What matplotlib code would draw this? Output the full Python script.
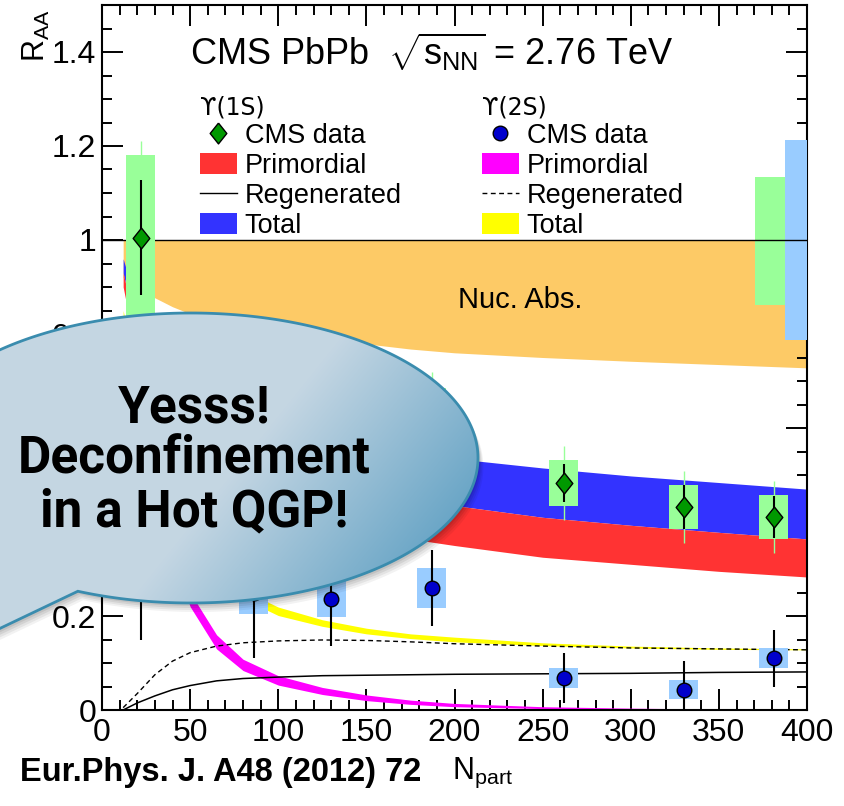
import numpy as np
import matplotlib
matplotlib.use("Agg")
import matplotlib.pyplot as plt
from matplotlib.lines import Line2D
from matplotlib.patches import Patch, PathPatch, Rectangle
from matplotlib.path import Path
from matplotlib.ticker import MultipleLocator, FuncFormatter

plt.rcParams['font.family'] = ['Liberation Sans', 'DejaVu Sans']
plt.rcParams['mathtext.fontset'] = 'custom'
plt.rcParams['mathtext.rm'] = 'Liberation Sans'
plt.rcParams['mathtext.it'] = 'Liberation Sans:italic'
plt.rcParams['mathtext.bf'] = 'Liberation Sans:bold'

# ---- CMS data points (N_part, R_AA) ----
npart_data = [22, 86, 130, 187, 262, 330, 381]
raa_1s = [1.005, 0.59, 0.66, 0.62, 0.483, 0.432, 0.411]
stat_1s = [0.122, 0.07, 0.07, 0.07, 0.04, 0.047, 0.044]
syst_1s = [0.176, 0.065, 0.065, 0.065, 0.049, 0.046, 0.047]
tot_1s = [0.205, 0.10, 0.10, 0.10, 0.079, 0.076, 0.077]

raa_2s = [0.30, 0.25, 0.236, 0.259, 0.068, 0.043, 0.110]
stat_2s = [0.15, 0.14, 0.10, 0.081, 0.054, 0.061, 0.061]
syst_2s = [0.06, 0.045, 0.038, 0.043, 0.021, 0.02, 0.021]
box_halfwidth = 8.2

# global uncertainty boxes at R_AA = 1
glob_1s = [370.5, 387.5, 0.862, 1.134]
glob_2s = [387.5, 400.0, 0.787, 1.213]

# ---- model curves (Eur.Phys.J. A48 (2012) 72) ----
npart_model = [12, 20, 30, 40, 50, 65, 80, 100, 125, 150, 175, 200, 250, 300, 350, 400]
nucabs_hi = [1.0] * 16
nucabs_lo = [0.92, 0.90, 0.877, 0.858, 0.843, 0.830, 0.818, 0.805, 0.791, 0.779,
             0.768, 0.760, 0.750, 0.742, 0.735, 0.728]
tot1s_hi = [0.96, 0.86, 0.79, 0.74, 0.70, 0.665, 0.64, 0.61, 0.585, 0.565,
            0.548, 0.535, 0.515, 0.498, 0.484, 0.470]
tot1s_lo = [0.93, 0.80, 0.72, 0.66, 0.62, 0.585, 0.56, 0.52, 0.492, 0.470,
            0.450, 0.435, 0.410, 0.393, 0.378, 0.364]
prim1s_hi = tot1s_lo
prim1s_lo = [0.90, 0.75, 0.65, 0.59, 0.54, 0.50, 0.47, 0.43, 0.40, 0.380,
             0.364, 0.350, 0.325, 0.310, 0.295, 0.283]
regen1s = [0.0, 0.015, 0.030, 0.043, 0.052, 0.062, 0.067, 0.070, 0.073, 0.074,
           0.075, 0.076, 0.077, 0.078, 0.080, 0.081]
tot2s_hi = [0.85, 0.71, 0.57, 0.46, 0.38, 0.30, 0.255, 0.219, 0.192, 0.174,
            0.162, 0.155, 0.143, 0.136, 0.132, 0.130]
tot2s_lo = [0.83, 0.69, 0.55, 0.44, 0.36, 0.28, 0.237, 0.201, 0.178, 0.162,
            0.152, 0.145, 0.137, 0.132, 0.129, 0.128]
prim2s_hi = [0.82, 0.635, 0.475, 0.355, 0.25, 0.160, 0.108, 0.073, 0.048, 0.032,
             0.021, 0.014, 0.007, 0.004, 0.002, 0.001]
prim2s_lo = [0.78, 0.605, 0.445, 0.325, 0.220, 0.130, 0.084, 0.053, 0.033, 0.020,
             0.012, 0.007, 0.003, 0.001, 0.0, 0.0]
regen2s = [0.005, 0.035, 0.075, 0.104, 0.122, 0.136, 0.143, 0.147, 0.149, 0.148,
           0.145, 0.141, 0.136, 0.132, 0.130, 0.128]

fig = plt.figure(figsize=(8.44, 8.06), dpi=100)
ax = fig.add_axes([102 / 844, 1 - 710 / 806, 705 / 844, 705 / 806])

# bands
ax.fill_between(npart_model, nucabs_lo, nucabs_hi, color='#fdca66', lw=0, zorder=1)
ax.fill_between(npart_model, tot1s_lo, tot1s_hi, color='#3333ff', lw=0, zorder=2)
ax.fill_between(npart_model, prim1s_lo, prim1s_hi, color='#ff3333', lw=0, zorder=2.1)
ax.fill_between(npart_model, tot2s_lo, tot2s_hi, color='#ffff00', lw=0, zorder=2.2)
ax.fill_between(npart_model, prim2s_lo, prim2s_hi, color='#ff00ff', lw=0, zorder=2.3)
ax.plot(npart_model, regen1s, color='black', lw=1.1, zorder=3)
ax.plot(npart_model, regen2s, color='black', lw=1.0, ls=(0, (3.5, 2.5)), zorder=3)

ax.text(237, 0.872, 'Nuc. Abs.', fontsize=21, ha='center', va='center', zorder=3)

# global uncertainties
for (x0, x1, y0, y1), col in [(glob_1s, '#99ff99'), (glob_2s, '#99ccff')]:
    ax.add_patch(Rectangle((x0, y0), x1 - x0, y1 - y0, color=col, lw=0, zorder=4))
ax.axhline(1.0, color='black', lw=1.0, zorder=5)

# systematic boxes
for x, y, s in zip(npart_data, raa_1s, syst_1s):
    ax.add_patch(Rectangle((x - box_halfwidth, y - s), 2 * box_halfwidth, 2 * s,
                           color='#99ff99', lw=0, zorder=6))
for x, y, s in zip(npart_data, raa_2s, syst_2s):
    ax.add_patch(Rectangle((x - box_halfwidth, y - s), 2 * box_halfwidth, 2 * s,
                           color='#99ccff', lw=0, zorder=6))

# error bars
ax.errorbar(npart_data, raa_1s, yerr=tot_1s, fmt='none', ecolor='#99ff99',
            elinewidth=1.0, capsize=0, zorder=6.5)
ax.errorbar(npart_data, raa_1s, yerr=stat_1s, fmt='none', ecolor='black',
            elinewidth=1.5, capsize=0, zorder=7)
ax.errorbar(npart_data, raa_2s, yerr=stat_2s, fmt='none', ecolor='black',
            elinewidth=1.5, capsize=0, zorder=7)

diamond = [(0, 1), (0.8, 0), (0, -1), (-0.8, 0), (0, 1)]
ax.plot(npart_data, raa_1s, ls='none', marker=diamond, ms=15, mfc='#009900',
        mec='black', mew=1.0, zorder=8)
ax.plot(npart_data, raa_2s, ls='none', marker='o', ms=10.5, mfc='#0000cc',
        mec='black', mew=1.0, zorder=8)

# axes styling (ROOT-like)
ax.set_xlim(0, 400)
ax.set_ylim(0, 1.5)
ax.xaxis.set_major_locator(MultipleLocator(50))
ax.xaxis.set_minor_locator(MultipleLocator(10))
ax.yaxis.set_major_locator(MultipleLocator(0.2))
ax.yaxis.set_minor_locator(MultipleLocator(0.05))
ax.yaxis.set_major_formatter(FuncFormatter(lambda v, p: '%g' % round(v, 2)))
ax.tick_params(which='both', direction='in', top=True, right=True, width=1.4,
               labelsize=23)
ax.tick_params(which='major', length=15)
ax.tick_params(which='minor', length=7.5)
ax.tick_params(axis='x', pad=6)
ax.tick_params(axis='y', pad=4)
for sp in ax.spines.values():
    sp.set_linewidth(1.5)

fig.text(432 / 844, 1 - 52 / 806, r'CMS PbPb  $\sqrt{\mathrm{s}_{\mathrm{NN}}}$ = 2.76 TeV',
         fontsize=26, ha='center', va='center', zorder=9)

# legends
h1 = [Line2D([], [], ls='none', marker=diamond, ms=15, mfc='#009900', mec='black'),
      Patch(fc='#ff3333', ec='none'),
      Line2D([], [], color='black', lw=1.0),
      Patch(fc='#3333ff', ec='none')]
h2 = [Line2D([], [], ls='none', marker='o', ms=10.5, mfc='#0000cc', mec='black'),
      Patch(fc='#ff00ff', ec='none'),
      Line2D([], [], color='black', lw=1.0, ls=(0, (3.5, 2.5))),
      Patch(fc='#ffff00', ec='none')]
labels = ['CMS data', 'Primordial', 'Regenerated', 'Total']
common = dict(frameon=False, fontsize=19.5, labelspacing=0.15,
              title_fontproperties={'family': 'DejaVu Sans', 'size': 17},
              handlelength=1.35, handleheight=0.8, handletextpad=0.3, borderpad=0,
              borderaxespad=0, alignment='left', loc='upper left',
              bbox_transform=fig.transFigure)
leg1 = ax.legend(h1, labels, title='\u03d2(1S)', bbox_to_anchor=(200 / 844, 1 - 95 / 806),
                 **common)
ax.add_artist(leg1)
leg1.set_zorder(9)
leg2 = ax.legend(h2, labels, title='\u03d2(2S)', bbox_to_anchor=(482 / 844, 1 - 95 / 806),
                 **common)
leg2.set_zorder(9)

fig.text(20 / 844, 1 - 781 / 806, 'Eur.Phys. J. A48 (2012) 72', fontsize=23.5,
         fontweight='bold', ha='left', va='baseline')
fig.text(452 / 844, 1 - 779 / 806, r'N$_{\mathrm{part}}$', fontsize=22,
         ha='left', va='baseline')
fig.text(21 / 844, 1 - 62 / 806, r'R$_{\mathrm{AA}}$', fontsize=22, rotation=90,
         ha='left', va='bottom')

# ---- speech bubble overlay (pixel coordinates) ----
ov = fig.add_axes([0, 0, 1, 1], zorder=20)
ov.axis('off')
ov.patch.set_alpha(0)

cx, cy, a, b = 191, 458, 287, 145
t = np.linspace(2.396, 1.976 + 2 * np.pi, 300)
verts = np.column_stack([cx + a * np.cos(t), cy + b * np.sin(t)])
verts = np.vstack([verts, [[-60, 657]], verts[:1]])
codes = [Path.MOVETO] + [Path.LINETO] * (len(verts) - 2) + [Path.CLOSEPOLY]

for off, al in [(9, 0.05), (7, 0.06), (5, 0.07), (3, 0.08)]:
    sh = Path(verts + [off * 0.6, off], codes)
    ov.add_patch(PathPatch(sh, fc='black', ec='none', alpha=al))

bubble = Path(verts, codes)
gx, gy = np.meshgrid(np.linspace(-70, 490, 400), np.linspace(300, 670, 300))
g = np.clip((gx + 0.8 * gy - 610) / 300, 0, 1)
light = np.array([0.77, 0.84, 0.89])
dark = np.array([0.36, 0.62, 0.76])
img = light[None, None, :] * (1 - g[..., None]) + dark[None, None, :] * g[..., None]
im = ov.imshow(img, extent=[-70, 490, 670, 300], origin='upper', interpolation='bilinear',
               zorder=1)
patch = PathPatch(bubble, fc='none', ec='#3a8cae', lw=2.0, zorder=2)
ov.add_patch(patch)
im.set_clip_path(patch)
ov.set_xlim(0, 844)
ov.set_ylim(806, 0)
ov.set_aspect('auto')

ov.text(194, 460, 'Yesss!\nDeconfinement\nin a Hot QGP!', fontsize=37, fontweight='bold',
        family='Roboto', ha='center', va='center', linespacing=1.05, zorder=3)

fig.savefig('out.png', dpi=100)
